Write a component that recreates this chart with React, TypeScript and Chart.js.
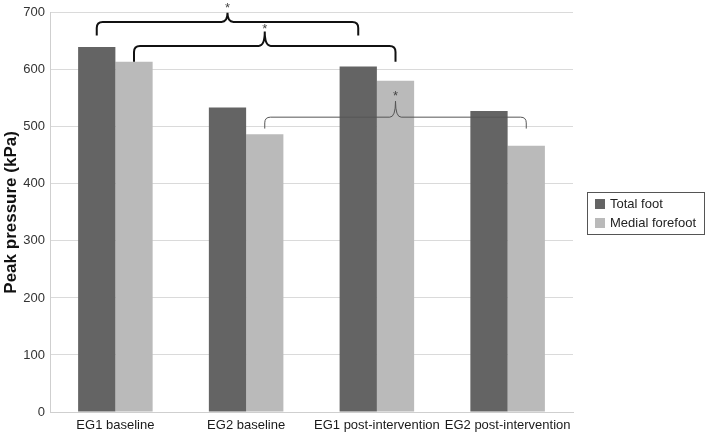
import React, { useEffect, useRef } from "react";
import { Chart, registerables } from "chart.js";

Chart.register(...registerables);

const categories = ["EG1 baseline", "EG2 baseline", "EG1 post-intervention", "EG2 post-intervention"];
const totalFoot = [640, 534, 606, 528];
const medialForefoot = [614, 487, 581, 467];
const seriesLabels = ["Total foot", "Medial forefoot"];
const seriesColors = ["#646464", "#bababa"];
const yTicksMax = 700;
const yStep = 100;

// significance brackets: [fromCategory, fromSeries], [toCategory, toSeries], level, endLevel, peakLevel, starLevel
const bracketFrom = [[0, 0], [0, 1], [1, 1]];
const bracketTo = [[2, 0], [2, 1], [3, 1]];
const bracketLevel = [684, 642, 517];
const bracketEnd = [660, 614, 497];
const bracketPeak = [700, 667, 545];
const bracketStar = [712, 675, 557];
const bracketThick = [true, true, false];

const annotPlugin = {
  id: "annot",
  afterDraw(chart: any) {
    const ctx = chart.ctx;
    const ys = chart.scales.y;
    // brackets
    for (let i = 0; i < bracketFrom.length; i++) {
      const [c1, s1] = bracketFrom[i];
      const [c2, s2] = bracketTo[i];
      const x1 = chart.getDatasetMeta(s1).data[c1].x;
      const x2 = chart.getDatasetMeta(s2).data[c2].x;
      const yl = ys.getPixelForValue(bracketLevel[i]);
      const ye = ys.getPixelForValue(bracketEnd[i]);
      const yp = ys.getPixelForValue(bracketPeak[i]);
      const ystar = ys.getPixelForValue(bracketStar[i]);
      const xm = (x1 + x2) / 2;
      const r = Math.min(6, (ye - yl) / 2);
      ctx.save();
      ctx.strokeStyle = bracketThick[i] ? "#111" : "#555";
      ctx.lineWidth = bracketThick[i] ? 2 : 1;
      ctx.beginPath();
      ctx.moveTo(x1, ye);
      ctx.lineTo(x1, yl + r);
      ctx.quadraticCurveTo(x1, yl, x1 + r, yl);
      ctx.lineTo(xm - r, yl);
      ctx.quadraticCurveTo(xm, yl, xm, yp);
      ctx.quadraticCurveTo(xm, yl, xm + r, yl);
      ctx.lineTo(x2 - r, yl);
      ctx.quadraticCurveTo(x2, yl, x2, yl + r);
      ctx.lineTo(x2, ye);
      ctx.stroke();
      ctx.fillStyle = "#444";
      ctx.font = "13px 'Liberation Sans', Arial, sans-serif";
      ctx.textAlign = "center";
      ctx.textBaseline = "middle";
      ctx.fillText("*", xm, ystar + 2);
      ctx.restore();
    }
    // legend
    const lx = 587, ly = 192, lw = 118, lh = 43;
    ctx.save();
    ctx.fillStyle = "#fff";
    ctx.fillRect(lx, ly, lw, lh);
    ctx.strokeStyle = "#555";
    ctx.lineWidth = 1;
    ctx.strokeRect(lx + 0.5, ly + 0.5, lw - 1, lh - 1);
    ctx.font = "13px 'Liberation Sans', Arial, sans-serif";
    ctx.textBaseline = "middle";
    ctx.textAlign = "left";
    chart.data.datasets.forEach((ds: any, k: number) => {
      const cy = ly + 12 + k * 19;
      ctx.fillStyle = ds.backgroundColor;
      ctx.fillRect(lx + 8, cy - 5, 10, 10);
      ctx.fillStyle = "#222";
      ctx.fillText(ds.label, lx + 23, cy);
    });
    ctx.restore();
  },
};

export default function App() {
  const ref = useRef<HTMLCanvasElement>(null);
  useEffect(() => {
    const chart = new Chart(ref.current as HTMLCanvasElement, {
      type: "bar",
      data: {
        labels: categories,
        datasets: [
          { label: seriesLabels[0], data: totalFoot, backgroundColor: seriesColors[0] },
          { label: seriesLabels[1], data: medialForefoot, backgroundColor: seriesColors[1] },
        ],
      },
      plugins: [annotPlugin],
      options: {
        animation: false,
        responsive: true,
        maintainAspectRatio: false,
        layout: { padding: { left: 0, right: 133, top: 11, bottom: 0 } },
        datasets: { bar: { categoryPercentage: 0.57, barPercentage: 1.0 } },
        plugins: { legend: { display: false }, tooltip: { enabled: false } },
        scales: {
          x: {
            grid: { display: false, drawTicks: false },
            border: { display: true, color: "#cfcfcf", width: 1 },
            ticks: {
              color: "#1a1a1a",
              padding: 6,
              maxRotation: 0,
              autoSkip: false,
              font: { family: "'Liberation Sans', Arial, sans-serif", size: 13 },
            },
            afterFit: (s: any) => { s.height = 20; },
          },
          y: {
            min: 0,
            max: yTicksMax,
            ticks: {
              stepSize: yStep,
              color: "#333",
              padding: 5,
              font: { family: "'Liberation Sans', Arial, sans-serif", size: 13 },
            },
            grid: { color: "#dadada", drawTicks: false },
            border: { display: true, color: "#cfcfcf" },
            title: {
              display: true,
              text: "Peak pressure (kPa)",
              color: "#111",
              padding: { top: 1, bottom: 0 },
              font: { family: "'Liberation Sans', Arial, sans-serif", size: 17, weight: "bold" },
            },
            afterFit: (s: any) => { s.width = 50; },
          },
        },
      },
    });
    return () => chart.destroy();
  }, []);
  return (
    <div style={{ position: "fixed", left: 0, top: 0, width: 706, height: 432, background: "#fff" }}>
      <canvas ref={ref} />
    </div>
  );
}
